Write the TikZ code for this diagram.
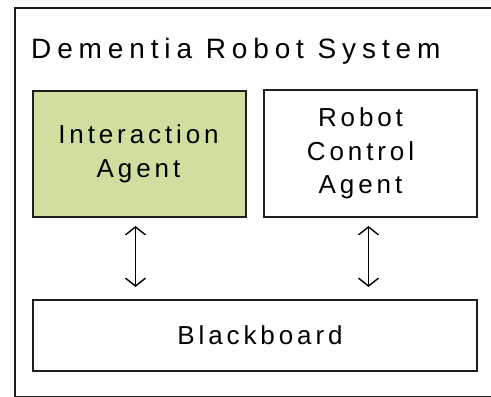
\documentclass[tikz,border=0pt]{standalone}
\usepackage{fontspec}
\setmainfont{Liberation Sans}
\usetikzlibrary{arrows.meta}
\definecolor{agentgreen}{HTML}{D0DF9F}
\definecolor{edge}{HTML}{1E1E1E}
\newfontfamily\titlefont[LetterSpace=21]{Liberation Sans}
\newfontfamily\boxfont[LetterSpace=15]{Liberation Sans}
\tikzset{
  x=1pt, y=-1pt,
  block/.style={draw=edge, line width=2pt, inner sep=0pt, anchor=north west},
  blocktext/.style={font=\fontsize{26}{33.5}\boxfont, align=center},
  link/.style={line width=1.4pt, {Straight Barb[length=8pt,width=20pt,line width=1.4pt]}-{Straight Barb[length=8pt,width=20pt,line width=1.4pt]}},
}
\begin{document}
\begin{tikzpicture}
  \useasboundingbox (0,0) rectangle (491,397);
  \begin{scope}
    \clip (0,0) rectangle (491,397);
    % outer frame of the system
    \node[block, minimum width=485pt, minimum height=389pt] (sys) at (14,7) {};
  \end{scope}
  \node[anchor=base west, font=\fontsize{28}{34}\titlefont, inner sep=0pt] (title) at (31,58) {Dementia Robot System};
  % agents
  \node[block, fill=agentgreen, minimum width=213pt, minimum height=126pt] (ia) at (32,90) {};
  \node[blocktext] (iatext) at ([xshift=-1pt]ia.center) {Interaction\\Agent};
  \node[block, minimum width=213pt, minimum height=127pt] (rc) at (263,89) {};
  \node[blocktext] (rctext) at ([xshift=-10pt]rc.center) {Robot\\Control\\Agent};
  % shared blackboard
  \node[block, minimum width=444pt, minimum height=71pt] (bb) at (32,299) {};
  \node[blocktext] (bbtext) at ([xshift=5pt]bb.center) {Blackboard};
  % connections to the blackboard
  \draw[link, shorten <=8pt, shorten >=12pt] ([xshift=-4pt]ia.south) -- ([xshift=-4pt]ia.south |- bb.north);
  \draw[link, shorten <=8pt, shorten >=12pt] ([xshift=-2pt]rc.south) -- ([xshift=-2pt]rc.south |- bb.north);
\end{tikzpicture}
\end{document}
